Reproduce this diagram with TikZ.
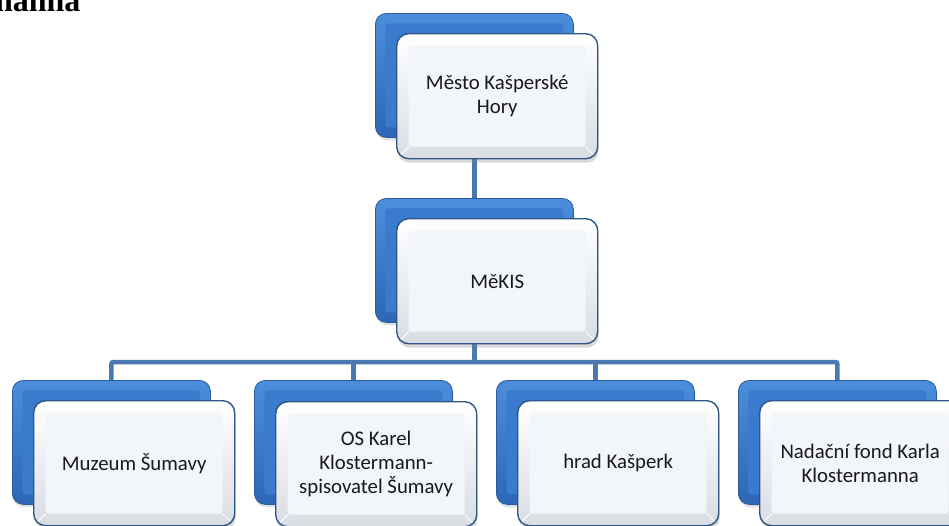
\documentclass[tikz,border=0pt]{standalone}
\usepackage{fontspec}
\setmainfont{Carlito}
\newfontfamily\headfont{Liberation Serif}
\usetikzlibrary{backgrounds,shadows}

\definecolor{cardblue}{HTML}{3A7BCE}
\definecolor{cardtop}{HTML}{4C8EDB}
\definecolor{cardbottom}{HTML}{2D66B6}
\definecolor{carddark}{HTML}{2B5B98}
\definecolor{faceedge}{HTML}{2E5686}
\definecolor{facefill}{HTML}{F2F5FA}
\definecolor{facebevel}{HTML}{D9DCE2}
\definecolor{linkblue}{HTML}{4A78B0}

\newcommand*\cardwidth{198pt}
\newcommand*\cardheight{124pt}
\tikzset{
  backcard/.style={
    anchor=north west,
    draw=carddark,
    line width=0.8pt,
    rounded corners=11pt,
    top color=cardtop,
    bottom color=cardbottom,
    inner sep=0pt,
    minimum width=\cardwidth,
    minimum height=\cardheight,
    drop shadow={opacity=0.25, shadow xshift=1pt, shadow yshift=-3pt},
    path picture={
      \fill[cardblue, rounded corners=3pt]
        ([xshift=10pt,yshift=-10pt]path picture bounding box.north west) rectangle
        ([xshift=-10pt,yshift=10pt]path picture bounding box.south east);
    }
  },
  frontcard/.style={
    anchor=north west,
    draw=faceedge,
    line width=1.4pt,
    rounded corners=12pt,
    top color=white,
    bottom color=facebevel,
    text=black!90,
    font=\fontsize{20.8}{24}\selectfont,
    align=center,
    inner sep=0pt,
    minimum width=\cardwidth+3pt,
    minimum height=\cardheight+1pt,
    drop shadow={opacity=0.3, shadow xshift=1pt, shadow yshift=-4pt},
    path picture={
      \draw[white, line width=1pt]
        (path picture bounding box.north west) -- ++(12pt,-12pt)
        (path picture bounding box.north east) -- ++(-12pt,-12pt)
        (path picture bounding box.south west) -- ++(12pt,12pt)
        (path picture bounding box.south east) -- ++(-12pt,12pt);
      \fill[facefill, rounded corners=3pt]
        ([xshift=12pt,yshift=-12pt]path picture bounding box.north west) rectangle
        ([xshift=-12pt,yshift=12pt]path picture bounding box.south east);
    }
  },
  link/.style={draw=linkblue, line width=4.5pt, rounded corners=2pt},
  heading/.style={anchor=base east, font=\headfont\bfseries\fontsize{32}{32}\selectfont}
}

\begin{document}
\begin{tikzpicture}[x=1pt,y=-1pt]
    \useasboundingbox (0,0) rectangle (949,525);

    % Heading, cut off at the top edge.
    \node[heading] (title) at (84,11) {nanna};

    % First the blue cards behind.
    \node[backcard] (mestoback) at (375,13) {};
    \node[backcard] (mekisback) at (375,198) {};
    \foreach \x/\name in {12/muzeum,254/os,496/hrad,738/fond}
        \node[backcard] (\name back) at (\x,380) {};

    % Draw the links behind the cards.
    \begin{scope}[on background layer]
        \coordinate (bus) at (0,362);
        \draw[link] (mestoback.south) -- (mekisback.north);
        \draw[link] (mekisback.south) -- (mekisback.south |- bus);
        \draw[link] (muzeumback.north) -- (muzeumback.north |- bus)
            -- (fondback.north |- bus) -- (fondback.north);
        \foreach \name in {os,hrad}
            \draw[link] (\name back.north) -- (\name back.north |- bus);
    \end{scope}

    % The white cards in front, shifted down and right.
    \node[frontcard] (mesto) at (396,33) {Město Kašperské\\Hory};
    \node[frontcard] (mekis) at (396,218) {MěKIS};
    \node[frontcard] (muzeum) at (33,400) {Muzeum Šumavy};
    \node[frontcard] (os) at (275,401) {OS Karel\\Klostermann-\\spisovatel Šumavy};
    \node[frontcard] (hrad) at (517,400) {hrad Kašperk};
    \node[frontcard] (fond) at (759,400) {Nadační fond Karla\\Klostermanna};

\end{tikzpicture}
\end{document}
